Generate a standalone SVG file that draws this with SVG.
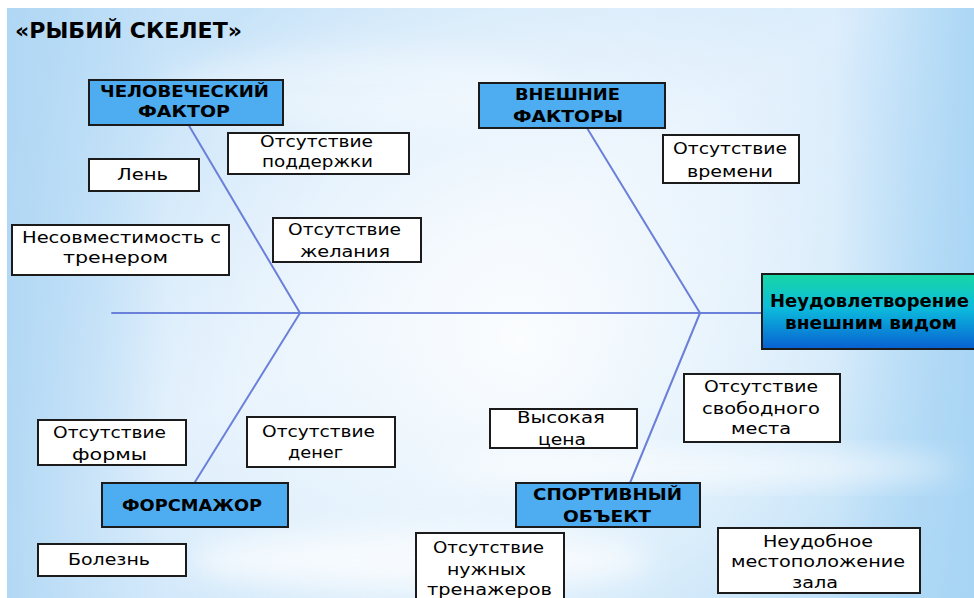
<svg xmlns="http://www.w3.org/2000/svg" width="974" height="598" viewBox="0 0 974 598">
  <defs>
    <linearGradient id="bgBase" x1="0" y1="0" x2="1" y2="1">
      <stop offset="0" stop-color="#bfdff7"/>
      <stop offset="0.45" stop-color="#deeefc"/>
      <stop offset="1" stop-color="#b4dbf6"/>
    </linearGradient>
    <radialGradient id="bgGlow" cx="520" cy="340" r="430" gradientUnits="userSpaceOnUse">
      <stop offset="0" stop-color="#ffffff" stop-opacity="0.9"/>
      <stop offset="0.6" stop-color="#ffffff" stop-opacity="0.4"/>
      <stop offset="1" stop-color="#ffffff" stop-opacity="0"/>
    </radialGradient>
    <linearGradient id="edgeL" x1="0" y1="0" x2="1" y2="0">
      <stop offset="0" stop-color="#aed6f4" stop-opacity="0.9"/>
      <stop offset="1" stop-color="#aed6f4" stop-opacity="0"/>
    </linearGradient>
    <linearGradient id="edgeR" x1="1" y1="0" x2="0" y2="0">
      <stop offset="0" stop-color="#a6d4f4" stop-opacity="0.9"/>
      <stop offset="1" stop-color="#a6d4f4" stop-opacity="0"/>
    </linearGradient>
    <filter id="soft" x="-20%" y="-50%" width="140%" height="200%">
      <feGaussianBlur stdDeviation="14"/>
    </filter>
    <linearGradient id="headFill" x1="0" y1="0" x2="0" y2="1">
      <stop offset="0" stop-color="#18d7a4"/>
      <stop offset="0.45" stop-color="#0cbcdc"/>
      <stop offset="1" stop-color="#0860d2"/>
    </linearGradient>
    <style>
      .cat { fill: #4eacf0; stroke: #1b1b1b; stroke-width: 2; }
      .cause { fill: #ffffff; stroke: #1b1b1b; stroke-width: 2; }
      .head { fill: url(#headFill); stroke: #1b1b1b; stroke-width: 2; }
      .bone { stroke: #6b80d8; stroke-width: 2; fill: none; stroke-linecap: round; }
      .tb { font-family: "DejaVu Sans", "Liberation Sans", sans-serif; font-weight: bold; font-size: 15px; fill: #000; }
      .th { font-family: "DejaVu Sans", "Liberation Sans", sans-serif; font-weight: bold; font-size: 18px; fill: #000; }
      .t { font-family: "DejaVu Sans", "Liberation Sans", sans-serif; font-size: 16px; fill: #000; }
      .title { font-family: "DejaVu Sans", "Liberation Sans", sans-serif; font-weight: bold; font-size: 22px; fill: #000; }
    </style>
  </defs>

  <!-- page background -->
  <rect x="0" y="0" width="974" height="598" fill="#ffffff"/>
  <g id="background">
    <rect x="7" y="8" width="967" height="590" fill="url(#bgBase)"/>
    <rect x="7" y="8" width="967" height="590" fill="url(#bgGlow)"/>
    <rect x="7" y="8" width="160" height="590" fill="url(#edgeL)"/>
    <rect x="834" y="8" width="140" height="590" fill="url(#edgeR)"/>
    <ellipse cx="700" cy="468" rx="260" ry="14" fill="#ffffff" opacity="0.7" filter="url(#soft)"/>
    <ellipse cx="420" cy="560" rx="230" ry="30" fill="#ffffff" opacity="0.7" filter="url(#soft)"/>
    <ellipse cx="360" cy="90" rx="200" ry="40" fill="#ffffff" opacity="0.35" filter="url(#soft)"/>
  </g>

  <text class="title" x="15" y="38" textLength="227" lengthAdjust="spacingAndGlyphs">«РЫБИЙ СКЕЛЕТ»</text>

  <!-- spine and bones -->
  <g id="connectors">
    <line class="bone" x1="112" y1="313" x2="762" y2="313"/>
    <line class="bone" x1="188" y1="124" x2="300" y2="313"/>
    <line class="bone" x1="300" y1="313" x2="195" y2="482"/>
    <line class="bone" x1="587" y1="128" x2="700" y2="313"/>
    <line class="bone" x1="700" y1="313" x2="630" y2="483"/>
  </g>

  <!-- effect -->
  <g id="head">
    <rect class="head" x="762" y="274" width="216" height="75"/>
    <text class="th" x="770" y="307" textLength="199" lengthAdjust="spacingAndGlyphs">Неудовлетворение</text>
    <text class="th" x="785" y="329" textLength="172" lengthAdjust="spacingAndGlyphs">внешним видом</text>
  </g>

  <!-- categories -->
  <g id="cat-human">
    <rect class="cat" x="89" y="80" width="194" height="45"/>
    <text class="tb" x="100" y="97" textLength="169" lengthAdjust="spacingAndGlyphs">ЧЕЛОВЕЧЕСКИЙ</text>
    <text class="tb" x="138" y="117" textLength="92" lengthAdjust="spacingAndGlyphs">ФАКТОР</text>
  </g>
  <g id="cat-external">
    <rect class="cat" x="479" y="83" width="186" height="45"/>
    <text class="tb" x="515" y="100" textLength="105" lengthAdjust="spacingAndGlyphs">ВНЕШНИЕ</text>
    <text class="tb" x="513" y="122" textLength="110" lengthAdjust="spacingAndGlyphs">ФАКТОРЫ</text>
  </g>
  <g id="cat-force">
    <rect class="cat" x="102" y="483" width="186" height="44"/>
    <text class="tb" x="122" y="511" textLength="140" lengthAdjust="spacingAndGlyphs">ФОРСМАЖОР</text>
  </g>
  <g id="cat-sport">
    <rect class="cat" x="516" y="483" width="184" height="44"/>
    <text class="tb" x="533" y="500" textLength="149" lengthAdjust="spacingAndGlyphs">СПОРТИВНЫЙ</text>
    <text class="tb" x="563" y="522" textLength="88" lengthAdjust="spacingAndGlyphs">ОБЪЕКТ</text>
  </g>

  <!-- causes -->
  <g id="c-lazy">
    <rect class="cause" x="89" y="159" width="110" height="32"/>
    <text class="t" x="117" y="180" textLength="51" lengthAdjust="spacingAndGlyphs">Лень</text>
  </g>
  <g id="c-coach">
    <rect class="cause" x="12" y="225" width="217" height="50"/>
    <text class="t" x="22" y="243" textLength="199" lengthAdjust="spacingAndGlyphs">Несовместимость с</text>
    <text class="t" x="63" y="263" textLength="105" lengthAdjust="spacingAndGlyphs">тренером</text>
  </g>
  <g id="c-support">
    <rect class="cause" x="228" y="133" width="181" height="41"/>
    <text class="t" x="260" y="147" textLength="113" lengthAdjust="spacingAndGlyphs">Отсутствие</text>
    <text class="t" x="262" y="167" textLength="111" lengthAdjust="spacingAndGlyphs">поддержки</text>
  </g>
  <g id="c-desire">
    <rect class="cause" x="273" y="218" width="148" height="44"/>
    <text class="t" x="288" y="235" textLength="113" lengthAdjust="spacingAndGlyphs">Отсутствие</text>
    <text class="t" x="300" y="257" textLength="90" lengthAdjust="spacingAndGlyphs">желания</text>
  </g>
  <g id="c-time">
    <rect class="cause" x="663" y="135" width="136" height="48"/>
    <text class="t" x="673" y="154" textLength="114" lengthAdjust="spacingAndGlyphs">Отсутствие</text>
    <text class="t" x="687" y="177" textLength="86" lengthAdjust="spacingAndGlyphs">времени</text>
  </g>
  <g id="c-shape">
    <rect class="cause" x="38" y="420" width="148" height="45"/>
    <text class="t" x="53" y="438" textLength="113" lengthAdjust="spacingAndGlyphs">Отсутствие</text>
    <text class="t" x="72" y="460" textLength="75" lengthAdjust="spacingAndGlyphs">формы</text>
  </g>
  <g id="c-money">
    <rect class="cause" x="247" y="417" width="148" height="50"/>
    <text class="t" x="262" y="437" textLength="113" lengthAdjust="spacingAndGlyphs">Отсутствие</text>
    <text class="t" x="288" y="458" textLength="55" lengthAdjust="spacingAndGlyphs">денег</text>
  </g>
  <g id="c-illness">
    <rect class="cause" x="38" y="544" width="148" height="32"/>
    <text class="t" x="68" y="565" textLength="82" lengthAdjust="spacingAndGlyphs">Болезнь</text>
  </g>
  <g id="c-price">
    <rect class="cause" x="490" y="409" width="147" height="39"/>
    <text class="t" x="517" y="423" textLength="88" lengthAdjust="spacingAndGlyphs">Высокая</text>
    <text class="t" x="538" y="445" textLength="48" lengthAdjust="spacingAndGlyphs">цена</text>
  </g>
  <g id="c-space">
    <rect class="cause" x="684" y="374" width="156" height="68"/>
    <text class="t" x="704" y="392" textLength="114" lengthAdjust="spacingAndGlyphs">Отсутствие</text>
    <text class="t" x="702" y="414" textLength="118" lengthAdjust="spacingAndGlyphs">свободного</text>
    <text class="t" x="731" y="434" textLength="60" lengthAdjust="spacingAndGlyphs">места</text>
  </g>
  <g id="c-equipment">
    <rect class="cause" x="416" y="533" width="148" height="70"/>
    <text class="t" x="433" y="553" textLength="111" lengthAdjust="spacingAndGlyphs">Отсутствие</text>
    <text class="t" x="447" y="575" textLength="79" lengthAdjust="spacingAndGlyphs">нужных</text>
    <text class="t" x="427" y="595" textLength="125" lengthAdjust="spacingAndGlyphs">тренажеров</text>
  </g>
  <g id="c-location">
    <rect class="cause" x="718" y="528" width="202" height="65"/>
    <text class="t" x="763" y="547" textLength="110" lengthAdjust="spacingAndGlyphs">Неудобное</text>
    <text class="t" x="731" y="567" textLength="174" lengthAdjust="spacingAndGlyphs">местоположение</text>
    <text class="t" x="792" y="588" textLength="46" lengthAdjust="spacingAndGlyphs">зала</text>
  </g>
</svg>
